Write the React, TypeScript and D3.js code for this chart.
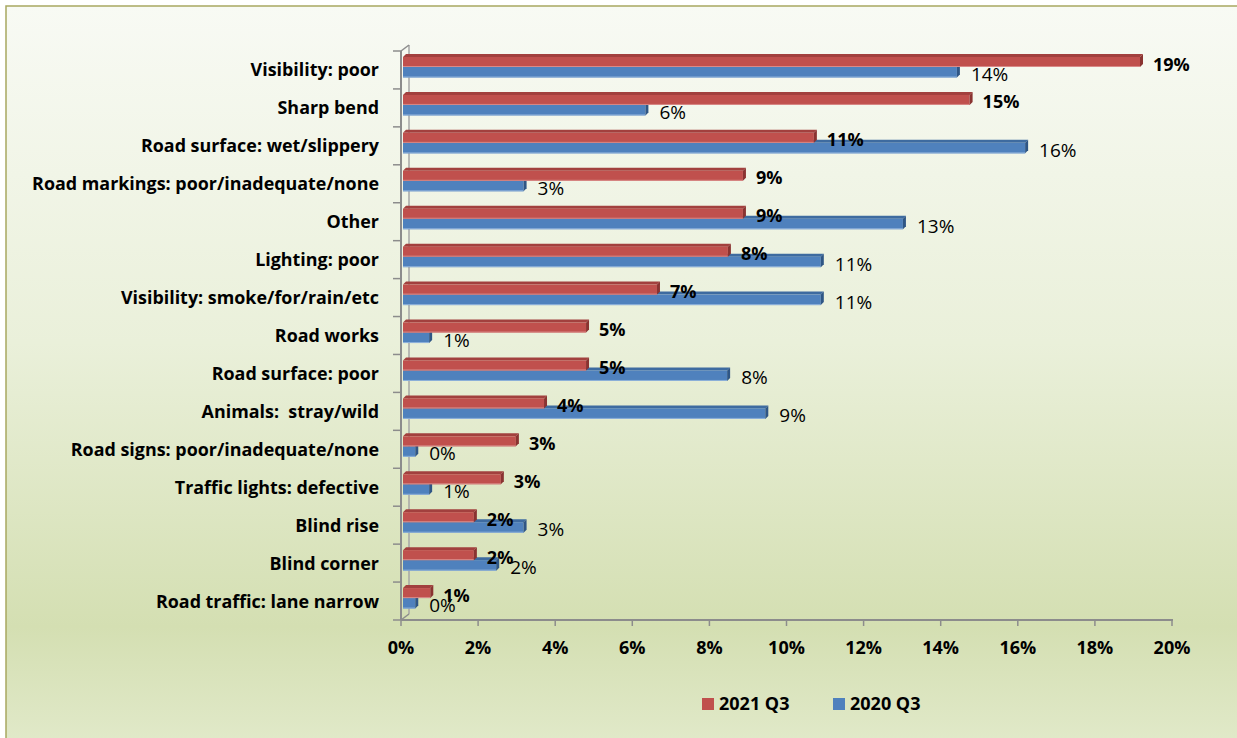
import React from "react";
import * as d3 from "d3";

const categories = [
  "Visibility: poor",
  "Sharp bend",
  "Road surface: wet/slippery",
  "Road markings: poor/inadequate/none",
  "Other",
  "Lighting: poor",
  "Visibility: smoke/for/rain/etc",
  "Road works",
  "Road surface: poor",
  "Animals:  stray/wild",
  "Road signs: poor/inadequate/none",
  "Traffic lights: defective",
  "Blind rise",
  "Blind corner",
  "Road traffic: lane narrow",
];
const series2021 = [19.17, 14.75, 10.71, 8.87, 8.87, 8.48, 6.64, 4.8, 4.8, 3.71, 2.98, 2.59, 1.89, 1.89, 0.76];
const series2020 = [14.42, 6.34, 16.19, 3.18, 13.02, 10.89, 10.89, 0.73, 8.46, 9.45, 0.37, 0.73, 3.18, 2.47, 0.37];
const seriesNames = ["2021 Q3", "2020 Q3"];
const xTicks = [0, 2, 4, 6, 8, 10, 12, 14, 16, 18, 20];

const W = 1237;
const H = 738;
const FONT = "'Open Sans', 'Noto Sans', sans-serif";
const FS_CAT = 17.9;
const FS = 18;
const FS_BLUE = 19;

const colors = {
  red: { front: "#c0504d", top: "#a2403e", end: "#8a3331", edge: "#d98a88" },
  blue: { front: "#4f81bd", top: "#3e6ba0", end: "#2f5685", edge: "#8fb1da" },
};

function Bar3D({ x0, x1, y, h, c }: { x0: number; x1: number; y: number; h: number; c: any }) {
  const d = 3;
  const top = `M${x0},${y} L${x0 + d},${y - d} L${x1 + d},${y - d} L${x1},${y} Z`;
  const end = `M${x1},${y} L${x1 + d},${y - d} L${x1 + d},${y + h - d} L${x1},${y + h} Z`;
  return (
    <g>
      <path d={top} fill={c.top} />
      <rect x={x0} y={y} width={Math.max(0, x1 - x0)} height={h} fill={c.front} />
      <line x1={x0} x2={x1} y1={y + h - 0.5} y2={y + h - 0.5} stroke={c.edge} strokeWidth={1} />
      <path d={end} fill={c.end} />
    </g>
  );
}

export default function App() {
  const x = d3.scaleLinear().domain([0, 20]).range([401, 1172]);
  const y = d3.scaleBand<string>().domain(categories).range([51, 620]).paddingInner(0).paddingOuter(0);
  const axisY = 620;
  const bandEdges = d3.range(categories.length + 1).map((i) => 51 + i * y.step());
  const fmt = (v: number) => `${Math.round(v)}%`;

  return (
    <svg
      width={W}
      height={H}
      style={{ position: "absolute", left: 0, top: 0, display: "block" }}
      fontFamily={FONT}
    >
      <defs>
        <linearGradient id="bg" x1="0" y1="0" x2="0" y2="1">
          <stop offset="0" stopColor="#f8faf4" />
          <stop offset="0.45" stopColor="#eaf0da" />
          <stop offset="0.83" stopColor="#d4dfb2" />
          <stop offset="1" stopColor="#e2eacb" />
        </linearGradient>
      </defs>
      <rect x={0} y={0} width={W} height={H} fill="#ffffff" />
      <rect x={6} y={6} width={W + 10} height={H + 10} fill="url(#bg)" stroke="#a8a860" strokeWidth={1.5} />

      {/* back wall edges (3D) */}
      <line x1={409} y1={45} x2={409} y2={614} stroke="#a6a6a6" strokeWidth={1.5} />
      <line x1={401} y1={51} x2={409} y2={45} stroke="#8c8c8c" strokeWidth={1.5} />
      <line x1={401} y1={axisY} x2={409} y2={axisY - 6} stroke="#8c8c8c" strokeWidth={1.5} />

      {/* bars */}
      {categories.map((cat, i) => {
        const b = y(cat)!;
        return (
          <g key={cat}>
            <Bar3D x0={x(0) + 2} x1={x(series2020[i])} y={b + 16} h={10.5} c={colors.blue} />
            <Bar3D x0={x(0) + 2} x1={x(series2021[i])} y={b + 6} h={10} c={colors.red} />
          </g>
        );
      })}

      {/* y axis */}
      <line x1={401} y1={51} x2={401} y2={axisY} stroke="#8c8c8c" strokeWidth={2} />
      {bandEdges.map((e, i) => (
        <line key={i} x1={393} x2={401} y1={e} y2={e} stroke="#8c8c8c" strokeWidth={1.5} />
      ))}

      {/* x axis */}
      <line x1={401} y1={axisY} x2={x(20) + 1} y2={axisY} stroke="#8c8c8c" strokeWidth={2} />
      {xTicks.map((t) => (
        <g key={t}>
          <line x1={x(t)} x2={x(t)} y1={axisY} y2={axisY + 6} stroke="#8c8c8c" strokeWidth={1.5} />
          <text x={x(t)} y={654} textAnchor="middle" fontSize={FS} fontWeight="bold" fill="#000">
            {`${t}%`}
          </text>
        </g>
      ))}

      {/* category labels */}
      {categories.map((cat) => (
        <text
          key={cat}
          x={379}
          y={y(cat)! + y.bandwidth() / 2 + 6.5}
          textAnchor="end"
          fontSize={FS_CAT}
          fontWeight="bold"
          fill="#000"
          style={{ whiteSpace: "pre" }}
        >
          {cat}
        </text>
      ))}

      {/* value labels */}
      {categories.map((cat, i) => {
        const b = y(cat)!;
        return (
          <g key={cat}>
            <text x={x(series2020[i]) + 14} y={b + 30} fontSize={FS_BLUE} fill="#000">
              {fmt(series2020[i])}
            </text>
            <text x={x(series2021[i]) + 13} y={b + 19.5} fontSize={FS} fontWeight="bold" fill="#000">
              {fmt(series2021[i])}
            </text>
          </g>
        );
      })}

      {/* legend */}
      <rect x={702} y={698} width={12} height={12} fill={colors.red.front} />
      <text x={719} y={710} fontSize={FS} fontWeight="bold" fill="#000">{seriesNames[0]}</text>
      <rect x={833} y={698} width={12} height={12} fill={colors.blue.front} />
      <text x={850} y={710} fontSize={FS} fontWeight="bold" fill="#000">{seriesNames[1]}</text>
    </svg>
  );
}
